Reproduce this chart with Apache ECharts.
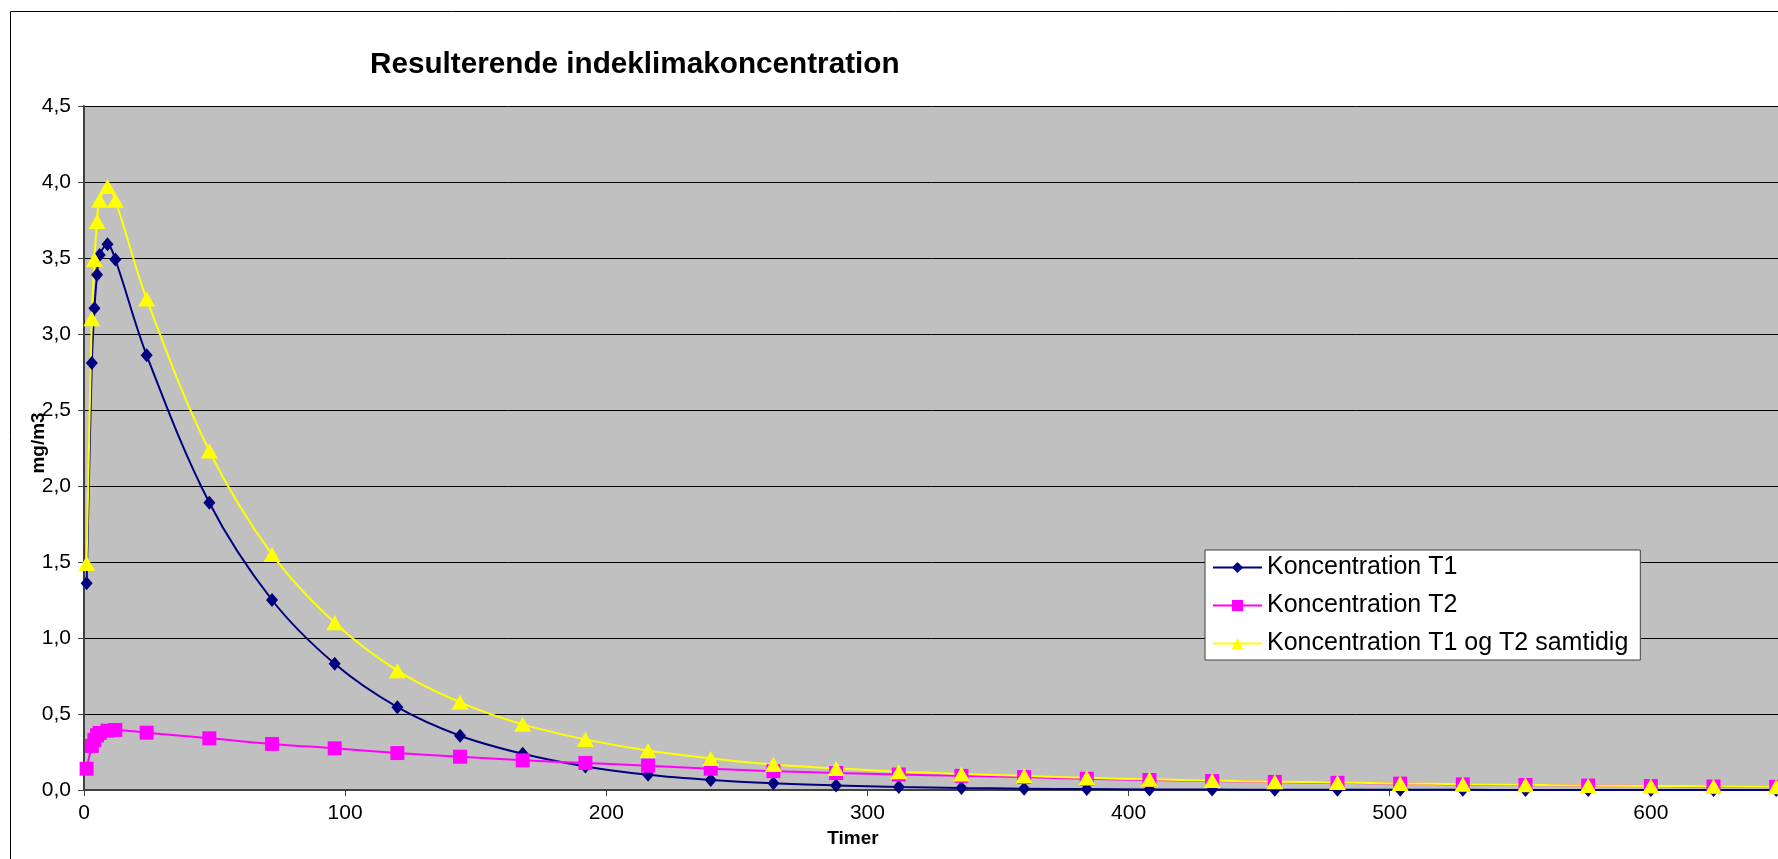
<!DOCTYPE html>
<html>
<head>
<meta charset="utf-8">
<script src="https://cdn.jsdelivr.net/npm/echarts@6/dist/echarts.min.js"></script>
<style>
  html, body { margin: 0; padding: 0; background: #fff; }
  #chart { width: 1778px; height: 859px; }
</style>
</head>
<body>
<div id="chart"></div>
<script>
const hours = [1, 3, 4, 5, 6, 9, 12, 24, 48, 72, 96, 120, 144, 168, 192, 216, 240, 264, 288, 312, 336, 360, 384, 408, 432, 456, 480, 504, 528, 552, 576, 600, 624, 648, 672];
const concT1 = [1.36, 2.81, 3.17, 3.39, 3.52, 3.59, 3.49, 2.86, 1.89, 1.25, 0.83, 0.545, 0.357, 0.238, 0.155, 0.10, 0.066, 0.044, 0.030, 0.020, 0.013, 0.009, 0.006, 0.004, 0.003, 0.002, 0.0015, 0.001, 0.001, 0.0005, 0.0004, 0.0003, 0.0002, 0.0001, 0.0001];
const concT2 = [0.14, 0.29, 0.33, 0.36, 0.375, 0.39, 0.395, 0.377, 0.34, 0.303, 0.274, 0.243, 0.219, 0.195, 0.178, 0.16, 0.14, 0.124, 0.112, 0.102, 0.093, 0.085, 0.074, 0.066, 0.059, 0.053, 0.047, 0.042, 0.037, 0.033, 0.029, 0.026, 0.023, 0.021, 0.019];
const concBoth = [1.49, 3.10, 3.49, 3.74, 3.88, 3.97, 3.88, 3.23, 2.23, 1.55, 1.10, 0.785, 0.577, 0.432, 0.333, 0.26, 0.208, 0.168, 0.142, 0.12, 0.106, 0.093, 0.08, 0.07, 0.062, 0.055, 0.049, 0.043, 0.038, 0.034, 0.03, 0.027, 0.024, 0.021, 0.019];
const seriesNames = ['Koncentration T1', 'Koncentration T2', 'Koncentration T1 og T2 samtidig'];

const pairs = (ys) => hours.map((h, i) => [h, ys[i]]);
const FONT = 'Liberation Sans, Arial, sans-serif';

const chart = echarts.init(document.getElementById('chart'), null, { renderer: 'canvas' });
chart.setOption({
  animation: false,
  backgroundColor: '#ffffff',
  textStyle: { fontFamily: FONT, color: '#000' },
  title: {
    text: 'Resulterende indeklimakoncentration',
    left: 365, top: 45,
    textStyle: { fontFamily: FONT, fontSize: 29.7, fontWeight: 'bold', color: '#000' }
  },
  graphic: [{
    type: 'rect', silent: true, z: -10,
    shape: { x: 10.5, y: 11.5, width: 2400, height: 2400 },
    style: { fill: null, stroke: '#000', lineWidth: 1 }
  }],
  grid: {
    left: 84, top: 106, bottom: 69, right: -134,
    outerBoundsMode: 'none', containLabel: false,
    show: true, backgroundColor: '#C0C0C0', borderWidth: 0
  },
  legend: {
    orient: 'vertical',
    left: 1205, top: 550,
    padding: [5, 12, 4, 7],
    itemGap: 13,
    itemWidth: 49, itemHeight: 14,
    backgroundColor: '#ffffff',
    borderColor: '#404040', borderWidth: 1,
    textStyle: { fontFamily: FONT, fontSize: 25, color: '#000' },
    data: seriesNames
  },
  xAxis: {
    type: 'value', min: 0, max: 700, interval: 100,
    name: 'Timer', nameLocation: 'middle', nameGap: 38,
    nameTextStyle: { fontFamily: FONT, fontSize: 19, fontWeight: 'bold', color: '#000', padding: [0, 290, 0, 0] },
    axisLine: { show: true, onZero: false, lineStyle: { color: '#404040', width: 2 } },
    axisTick: { show: true, inside: false, length: 6, lineStyle: { color: '#404040', width: 1 } },
    axisLabel: { fontFamily: FONT, fontSize: 21, color: '#000', margin: 13 },
    splitLine: { show: false }
  },
  yAxis: {
    type: 'value', min: 0, max: 4.5, interval: 0.5,
    name: 'mg/m3', nameLocation: 'middle', nameGap: 36, nameMoveOverlap: false,
    nameTextStyle: { fontFamily: FONT, fontSize: 19, fontWeight: 'bold', color: '#000', padding: [0, 0, 0, 10] },
    axisLine: { show: true, lineStyle: { color: '#404040', width: 2 } },
    axisTick: { show: true, inside: false, length: 6, lineStyle: { color: '#404040', width: 1 } },
    axisLabel: {
      fontFamily: FONT, fontSize: 21, color: '#000', margin: 13,
      formatter: (v) => v.toFixed(1).replace('.', ',')
    },
    splitLine: { show: true, lineStyle: { color: '#000', width: 1 } }
  },
  series: [
    {
      name: seriesNames[0], type: 'line', data: pairs(concT1), smooth: 0.35,
      symbol: 'diamond', symbolSize: [12, 14], showAllSymbol: true,
      lineStyle: { color: '#000080', width: 2 },
      itemStyle: { color: '#000080' }
    },
    {
      name: seriesNames[1], type: 'line', data: pairs(concT2), smooth: 0.35,
      symbol: 'rect', symbolSize: 14, showAllSymbol: true,
      lineStyle: { color: '#FF00FF', width: 2 },
      itemStyle: { color: '#FF00FF' }
    },
    {
      name: seriesNames[2], type: 'line', data: pairs(concBoth), smooth: 0.35,
      symbol: 'triangle', symbolSize: [17, 15], showAllSymbol: true,
      lineStyle: { color: '#FFFF00', width: 2 },
      itemStyle: { color: '#FFFF00' }
    }
  ]
});
</script>
</body>
</html>
